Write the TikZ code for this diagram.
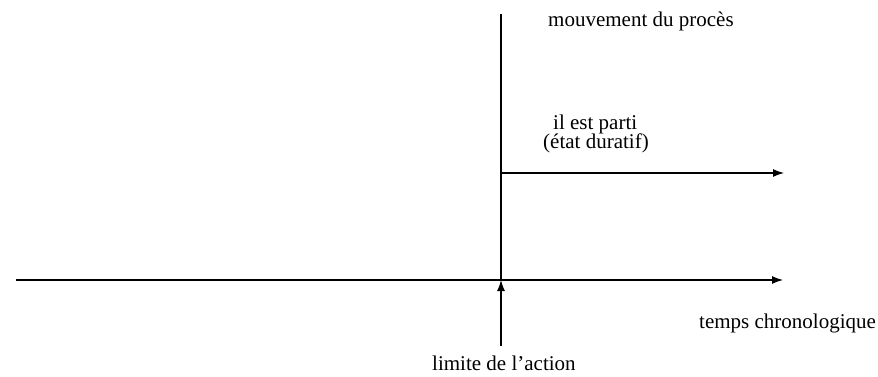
\documentclass[tikz,border=0pt]{standalone}
\usepackage{fontspec}
\setmainfont{Liberation Serif}
\usetikzlibrary{arrows.meta}
\begin{document}
\begin{tikzpicture}[x=1pt,y=-1pt,
  lbl/.style={inner sep=0pt,anchor=west,font=\fontsize{21}{24}\selectfont},
  axis/.style={line width=1.1pt},
  arr/.style={axis,-{Latex[length=11pt,width=8pt]}}]
\useasboundingbox (0,0) rectangle (878,376);
\coordinate (vtop) at (501,14);
\coordinate (cross) at (501,280);
\coordinate (vbot) at (501,346);
\coordinate (hleft) at (16,280);
\coordinate (hright) at (783,280);
\coordinate (ustart) at (501,173);
\coordinate (uend) at (784,173);
\draw[axis] (vtop) -- (cross);
\draw[arr] (hleft) -- (hright);
\draw[arr] (ustart) -- (uend);
\draw[arr] (vbot) -- (cross);
\node[lbl] (proc) at (548,21) {mouvement du procès};
\node[lbl] (parti) at (553,124) {il est parti};
\node[lbl] (etat) at (543,143) {(état duratif)};
\node[lbl] (temps) at (699,323) {temps chronologique};
\node[lbl] (limite) at (432,363) {limite de l’action};
\end{tikzpicture}
\end{document}
